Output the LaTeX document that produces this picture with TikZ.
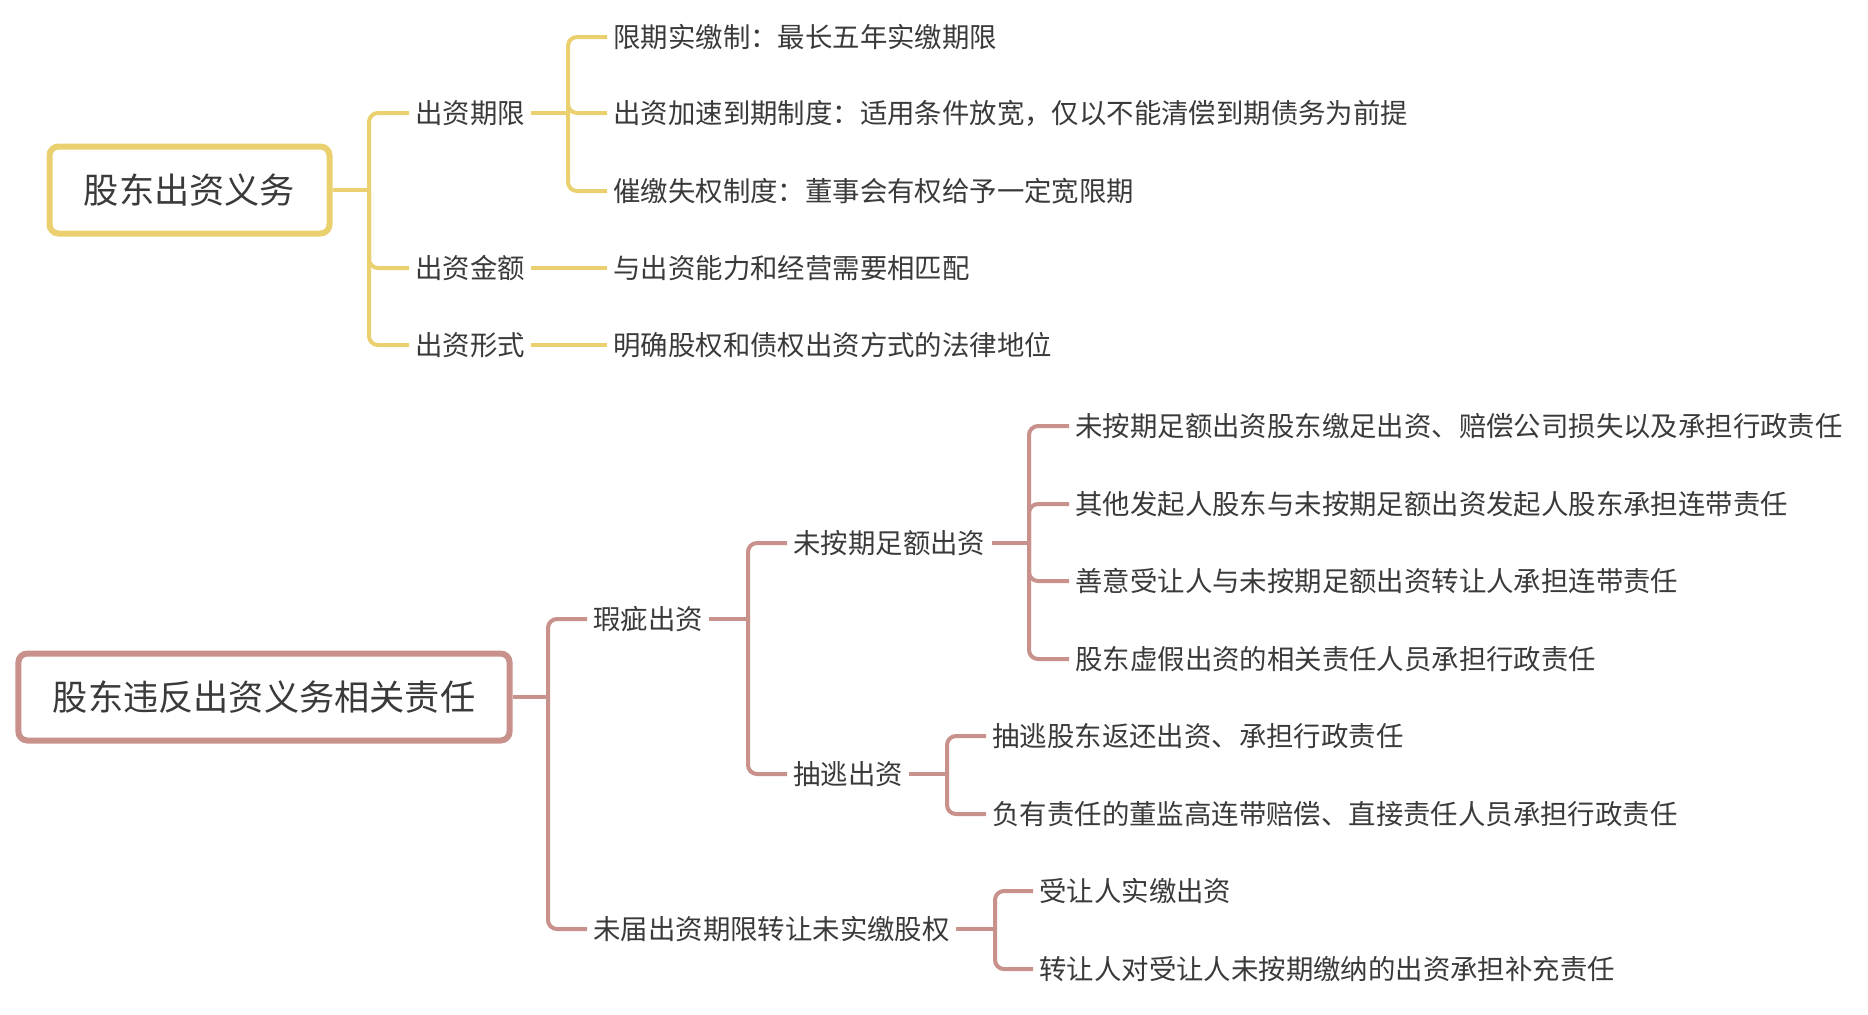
\documentclass[tikz,border=0pt]{standalone}
\usepackage{fontspec}
\setmainfont{Noto Sans CJK SC}
\usetikzlibrary{positioning}
\definecolor{mapyellow}{HTML}{EBD070}
\definecolor{maprose}{HTML}{C8918B}
\definecolor{maptext}{HTML}{3A3A3A}

\tikzset{
  topic/.style={draw, line width=3pt, rounded corners=4.5pt, fill=white, text=maptext,
                font=\fontsize{17.6}{20}\selectfont, inner xsep=17.2pt, minimum height=43.5pt},
  item/.style={anchor=west, text=maptext, inner xsep=3pt, inner ysep=2pt,
               font=\fontsize{13.7}{16}\selectfont},
  branch/.style={line width=2pt, rounded corners=4.5pt},
}

\begin{document}
\begin{tikzpicture}[x=0.5pt, y=-0.5pt]
  \useasboundingbox (0,0) rectangle (1868,1014);

  % first map
  \node[topic, draw=mapyellow] (duty) at (189.5,190) {股东出资义务};
  \node[item] (term)   at (409,113) {出资期限};
  \node[item] (amount) at (409,268) {出资金额};
  \node[item] (form)   at (409,345) {出资形式};
  \node[item] (term1)   at (607,37)  {限期实缴制：最长五年实缴期限};
  \node[item] (term2)   at (607,113) {出资加速到期制度：适用条件放宽，仅以不能清偿到期债务为前提};
  \node[item] (term3)   at (607,191) {催缴失权制度：董事会有权给予一定宽限期};
  \node[item] (amount1) at (607,268) {与出资能力和经营需要相匹配};
  \node[item] (form1)   at (607,345) {明确股权和债权出资方式的法律地位};

  \coordinate (tduty) at (369,190);
  \coordinate (tterm) at (568,113);
  \coordinate (tamount) at (568,268);
  \coordinate (tform) at (568,345);
  \begin{scope}[branch, draw=mapyellow]
    \draw (duty.east) -- (tduty);
    \foreach \c in {term, amount, form}
      \draw (tduty) |- (\c.west);
    \draw (term.east) -- (tterm);
    \foreach \c in {term1, term2, term3}
      \draw (tterm) |- (\c.west);
    \draw (amount.east) -- (tamount) -- (amount1.west);
    \draw (form.east) -- (tform) -- (form1.west);
  \end{scope}

  % second map
  \node[topic, draw=maprose] (breach) at (264,697) {股东违反出资义务相关责任};
  \node[item] (flaw)     at (587,619) {瑕疵出资};
  \node[item] (transfer) at (587,929) {未届出资期限转让未实缴股权};
  \node[item] (unpaid)   at (787,543) {未按期足额出资};
  \node[item] (withdraw) at (787,774) {抽逃出资};
  \node[item] (unpaid1) at (1069,426) {未按期足额出资股东缴足出资、赔偿公司损失以及承担行政责任};
  \node[item] (unpaid2) at (1069,504) {其他发起人股东与未按期足额出资发起人股东承担连带责任};
  \node[item] (unpaid3) at (1069,581) {善意受让人与未按期足额出资转让人承担连带责任};
  \node[item] (unpaid4) at (1069,659) {股东虚假出资的相关责任人员承担行政责任};
  \node[item] (withdraw1) at (986,736) {抽逃股东返还出资、承担行政责任};
  \node[item] (withdraw2) at (986,814) {负有责任的董监高连带赔偿、直接责任人员承担行政责任};
  \node[item] (transfer1) at (1033,891) {受让人实缴出资};
  \node[item] (transfer2) at (1033,969) {转让人对受让人未按期缴纳的出资承担补充责任};

  \coordinate (tbreach) at (548,697);
  \coordinate (tflaw) at (748,619);
  \coordinate (tunpaid) at (1029,543);
  \coordinate (twithdraw) at (947,774);
  \coordinate (ttransfer) at (995,929);
  \begin{scope}[branch, draw=maprose]
    \draw (breach.east) -- (tbreach);
    \foreach \c in {flaw, transfer}
      \draw (tbreach) |- (\c.west);
    \draw (flaw.east) -- (tflaw);
    \foreach \c in {unpaid, withdraw}
      \draw (tflaw) |- (\c.west);
    \draw (unpaid.east) -- (tunpaid);
    \foreach \c in {unpaid1, unpaid2, unpaid3, unpaid4}
      \draw (tunpaid) |- (\c.west);
    \draw (withdraw.east) -- (twithdraw);
    \foreach \c in {withdraw1, withdraw2}
      \draw (twithdraw) |- (\c.west);
    \draw (transfer.east) -- (ttransfer);
    \foreach \c in {transfer1, transfer2}
      \draw (ttransfer) |- (\c.west);
  \end{scope}
\end{tikzpicture}
\end{document}
